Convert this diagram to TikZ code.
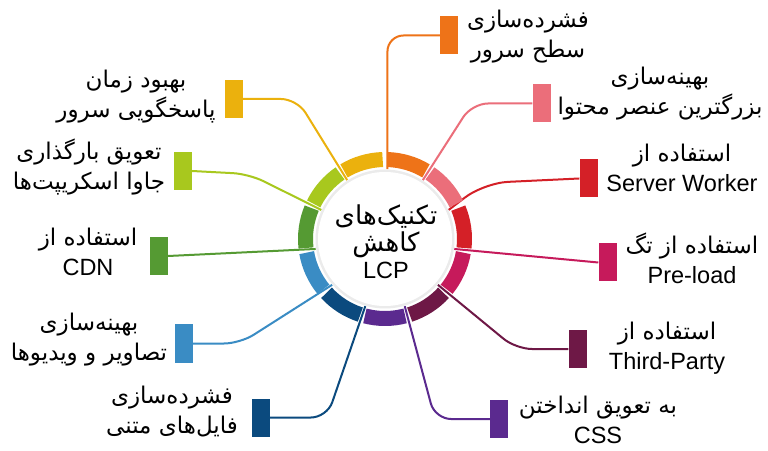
\documentclass[tikz,border=0pt]{standalone}
\usepackage{fontspec}
\setmainfont{Liberation Sans}
\newfontfamily\fa[Script=Arabic]{DejaVu Sans}
\usetikzlibrary{calc}
\TeXXeTstate=1
\newcommand\fl[1]{{\fa\fontsize{23}{30}\selectfont\beginR #1\endR}}
\newcommand\flc[1]{{\fa\fontsize{26}{27}\selectfont\beginR #1\endR}}
\definecolor{cOr}{HTML}{EE7318}
\definecolor{cPk}{HTML}{EB6E7A}
\definecolor{cRd}{HTML}{D42027}
\definecolor{cCr}{HTML}{C61A5B}
\definecolor{cMr}{HTML}{6E1846}
\definecolor{cPu}{HTML}{5B2A8F}
\definecolor{cDb}{HTML}{0B4A7E}
\definecolor{cLb}{HTML}{3A8CC4}
\definecolor{cGr}{HTML}{559A33}
\definecolor{cLi}{HTML}{A8C81E}
\definecolor{cYe}{HTML}{EBB10D}
\tikzset{
  box/.style={rectangle, minimum width=18pt, minimum height=38pt, inner sep=0pt, draw=none},
  lbl/.style={align=center, inner sep=0pt, font=\fontsize{23.5}{30}\selectfont},
  conn/.style={line width=2pt, rounded corners=16pt},
}
\begin{document}
\begin{tikzpicture}[x=1pt,y=1pt]
\useasboundingbox[fill=white] (0,0) rectangle (768,450);
\coordinate (C) at (385,211);
% gap coordinates
\foreach \i in {0,...,10}{
  \pgfmathsetmacro\ang{90-32.727*\i}
  \coordinate (g\i) at ($(C)+(\ang:70pt)$);
}
\coordinate (g0) at ($(C)+(88:70pt)$);
% boxes
\node[box, fill=cOr] (b0) at (449,414.5) {};
\node[box, fill=cPk] (b1) at (541.5,346.5) {};
\node[box, fill=cRd] (b2) at (588.5,271.5) {};
\node[box, fill=cCr] (b3) at (607.5,187.5) {};
\node[box, fill=cMr] (b4) at (577.5,101) {};
\node[box, fill=cPu] (b5) at (499,31) {};
\node[box, fill=cDb] (b6) at (261,32.5) {};
\node[box, fill=cLb] (b7) at (184,106.5) {};
\node[box, fill=cGr] (b8) at (159,194) {};
\node[box, fill=cLi] (b9) at (183,279) {};
\node[box, fill=cYe] (b10) at (233.5,351) {};
% connectors
\draw[conn, cOr] (g0) |- (b0.west);
\draw[conn, cPk] (g1) -- (472,346.5) -- (b1.west);
\draw[conn, cRd, rounded corners=24pt] (g2) -- (484,267) -- (b2.west);
\draw[conn, cCr] (g3) -- (b3.west);
\draw[conn, cMr] (g4) -- (516,101) -- (b4.west);
\draw[conn, cPu] (g5) -- (435,31) -- (b5.west);
\draw[conn, cDb] (g6) -- (327,32.5) -- (b6.east);
\draw[conn, cLb] (g7) -- (240,106.5) -- (b7.east);
\draw[conn, cGr] (g8) -- (b8.east);
\draw[conn, cLi] (g9) -- (249,276) -- (b9.east);
\draw[conn, cYe] (g10) -- (297,351) -- (b10.east);
% ring segments
\foreach \i/\c in {0/cOr,1/cPk,2/cRd,3/cCr,4/cMr,5/cPu,6/cDb,7/cLb,8/cGr,9/cLi,10/cYe}{
  \pgfmathsetmacro\s{90-32.727*\i-1.7}
  \pgfmathsetmacro\e{90-32.727*(\i+1)+1.7}
  \draw[line width=15pt, \c] (C) ++(\s:79.5pt) arc[start angle=\s, end angle=\e, radius=79.5pt];
}
% centre
\fill[black!8] (C) circle[radius=69.5pt];
\fill[white] (C) circle[radius=67pt];
\node[align=center, inner sep=0pt, font=\fontsize{23.5}{27}\selectfont] (ctr) at (386,208)
  {\flc{تکنیک^^^^200cهای}\\\flc{کاهش}\\LCP};
% labels
\node[lbl] (t0) at (528,413) {\fl{فشرده^^^^200cسازی}\\\fl{سطح سرور}};
\node[lbl] (t1) at (660,356) {\fl{بهینه^^^^200cسازی}\\\fl{بزرگترین عنصر محتوا}};
\node[lbl] (t2) at (682,282) {\fl{استفاده از}\\Server Worker};
\node[lbl] (t3) at (692,192) {\fl{استفاده از تگ}\\Pre-load};
\node[lbl] (t4) at (667,102) {\fl{استفاده از}\\Third-Party};
\node[lbl] (t5) at (598,30) {\fl{به تعویق انداختن}\\CSS};
\node[lbl] (t6) at (172,38) {\fl{فشرده^^^^200cسازی}\\\fl{فایل^^^^200cهای متنی}};
\node[lbl] (t7) at (89,110) {\fl{بهینه^^^^200cسازی}\\\fl{تصاویر و ویدیوها}};
\node[lbl] (t8) at (88,198) {\fl{استفاده از}\\CDN};
\node[lbl] (t9) at (89,283) {\fl{تعویق بارگذاری}\\\fl{جاوا اسکریپت^^^^200cها}};
\node[lbl] (t10) at (136,353) {\fl{بهبود زمان}\\\fl{پاسخگویی سرور}};
\end{tikzpicture}
\end{document}
